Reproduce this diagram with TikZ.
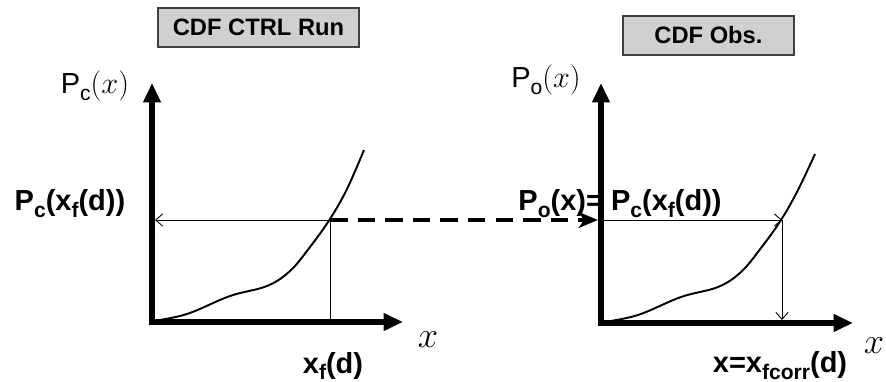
\documentclass[tikz,border=0pt]{standalone}
\usepackage{fontspec}
\setmainfont{Liberation Sans}
\usetikzlibrary{positioning, arrows.meta, calc}
\definecolor{boxgray}{HTML}{D0D0D0}
\newcommand{\lowsub}[1]{\raisebox{-0.45ex}{\fontsize{12}{12}\selectfont #1}}

\begin{document}
\begin{tikzpicture}[x=0.02cm, y=-0.02cm,
    titlebox/.style={draw=black!75, fill=boxgray, line width=0.6pt,
                     minimum height=0.78cm, inner sep=0pt,
                     font=\bfseries\fontsize{13.5}{15}\selectfont},
    axis/.style={line width=3.4pt, line join=miter,
                 {Triangle[length=11pt, width=9.5pt]}-{Triangle[length=11pt, width=9.5pt]}},
    guide/.style={line width=0.5pt},
    guidetip/.style={guide, -{Straight Barb[length=4pt, width=7pt]}, shorten >=1.7pt},
    dashline/.style={line width=2.2pt, dash pattern=on 10pt off 5.7pt,
                     -{Stealth[length=11pt, width=9pt, inset=3pt]}, shorten >=1.7pt},
    cdf/.style={line width=1.1pt},
    biglabel/.style={font=\bfseries\fontsize{16.5}{18}\selectfont, inner sep=0pt},
    axlabel/.style={font=\fontsize{16.5}{18}\selectfont, inner sep=0pt},
    varlabel/.style={font=\fontsize{20}{22}\selectfont, inner sep=0pt}]
  \useasboundingbox (0,0) rectangle (886,382);

  % left panel: control run
  \node[titlebox, minimum width=4.02cm] (ttlc) at (258.5,27.5) {CDF CTRL Run};
  \coordinate (oc) at (152,322);
  \coordinate (yc) at (152,83);
  \coordinate (xc) at (403,322);
  \coordinate (hc) at (330,220);
  \draw[cdf] plot[smooth, tension=0.6] coordinates {(153,321) (187,314) (230,296) (267,286)
    (290,271) (310,247) (330,219) (347,189) (364,150)};
  \draw[guidetip] (hc) -- (hc -| oc);
  \draw[guide] (hc) -- (hc |- oc);
  \draw[axis] (yc) -- (oc) -- (xc);
  \node[axlabel] (pcl) at (95,86) {P\lowsub{c}$(x)$};
  \node[biglabel] (pcxf) at (70,204) {P\lowsub{c}(x\lowsub{f}(d))};
  \node[biglabel] (xfd) at (333,366) {x\lowsub{f}(d)};
  \node[varlabel] (xlc) at (428,340) {$x$};

  % right panel: observations
  \node[titlebox, minimum width=3.42cm] (ttlo) at (708.5,35.5) {CDF Obs.};
  \coordinate (oo) at (601,323);
  \coordinate (yo) at (601,83);
  \coordinate (xo) at (853,323);
  \coordinate (ho) at (782,220);
  \draw[cdf] plot[smooth, tension=0.6] coordinates {(604,322) (638,315) (681,297) (718,287)
    (741,272) (761,248) (781,220) (798,190) (815,154)};
  \draw[guidetip, shorten >=0pt] (ho -| oo) -- (ho);
  \draw[guidetip] (ho) -- (ho |- oo);
  \draw[axis] (yo) -- (oo) -- (xo);
  \node[axlabel] (pol) at (546,80) {P\lowsub{o}$(x)$};
  \node[biglabel] (poeq) at (620,204) {P\lowsub{o}(x)= P\lowsub{c}(x\lowsub{f}(d))};
  \node[biglabel] (xcorr) at (780,366) {x=x\lowsub{fcorr}(d)};
  \node[varlabel] (xlo) at (874,346) {$x$};

  % transfer of the probability level
  \draw[dashline] (hc) -- (ho -| oo);
\end{tikzpicture}
\end{document}
